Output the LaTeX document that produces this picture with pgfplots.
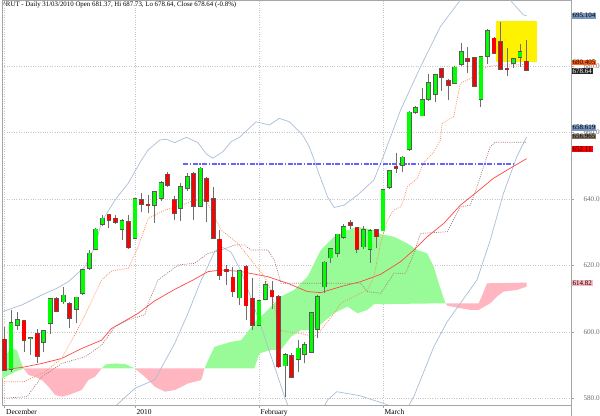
\documentclass[border=0pt]{standalone}
\usepackage{fontspec}
\setmainfont{Liberation Serif}
\usepackage{pgfplots}
\usepackage{pgfplotstable}
\pgfplotsset{compat=1.18}

\definecolor{upc}{RGB}{0,255,0}
\definecolor{dnc}{RGB}{255,0,0}
\definecolor{edge}{RGB}{90,90,90}
\definecolor{wick}{RGB}{110,110,110}
\definecolor{band}{RGB}{170,190,215}
\definecolor{ma}{RGB}{255,70,70}
\definecolor{tenkan}{RGB}{255,140,90}
\definecolor{kijun}{RGB}{170,120,120}
\definecolor{cloudup}{RGB}{152,251,152}
\definecolor{clouddn}{RGB}{255,182,193}
\definecolor{resist}{RGB}{100,100,255}
\definecolor{boxblue}{RGB}{120,150,190}
\definecolor{boxorange}{RGB}{255,100,30}
\definecolor{boxbrown}{RGB}{135,118,102}

% daily candles, n = trading day (0 = 3 Dec 2009)
\pgfplotstableread{
n  o      h      l      c
1  588.7  606.6  588.0  602.7
2  602.1  606.0  600.5  603.6
4  598.0  598.5  593.0  598.2
6  597.0  600.5  594.0  600.2
7  602.6  610.2  599.3  609.9
9  609.1  613.6  608.5  611.0
11 606.8  610.6  602.6  610.4
12 611.6  619.0  611.0  618.6
13 619.1  624.5  618.5  623.6
14 624.9  631.2  624.5  630.8
15 632.3  635.0  631.8  634.1
18 630.8  633.8  627.6  633.3
20 628.1  640.4  627.8  640.1
23 638.1  642.5  632.8  642.0
24 640.2  645.5  639.5  644.7
27 637.1  644.7  633.3  643.5
28 643.3  647.7  642.5  646.5
30 637.8  649.5  637.5  649.2
36 610.3  618.6  608.1  618.3
39 602.0  609.5  601.8  609.3
40 609.8  615.3  609.5  614.1
43 589.8  593.5  580.5  593.0
45 591.7  597.5  588.0  595.0
46 593.2  597.0  590.5  596.0
47 594.0  606.0  593.8  605.6
48 600.8  611.0  598.0  610.6
49 613.6  621.2  611.6  620.9
50 622.3  625.3  620.6  624.9
51 623.6  629.5  622.6  629.3
52 628.4  632.5  628.0  631.6
55 625.6  631.8  625.0  630.6
56 624.8  630.8  620.8  630.4
58 630.4  642.8  630.2  642.6
59 643.5  648.6  643.0  648.4
61 650.2  653.0  648.2  652.5
62 654.9  666.3  654.5  666.0
63 666.0  668.0  665.5  667.4
64 665.0  673.2  664.8  669.7
65 670.0  677.5  669.5  674.9
66 671.5  677.5  669.2  677.2
69 674.7  679.8  674.5  679.5
70 680.5  686.8  680.0  684.1
73 669.9  683.0  667.7  682.7
74 683.0  691.0  680.7  690.5
78 680.8  682.5  679.3  682.2
79 682.7  686.5  679.7  684.1
}\up
\pgfplotstableread{
n  o      h      l      c
0  597.7  601.5  588.5  588.5
3  603.2  603.5  594.0  597.5
5  599.5  600.8  590.5  592.7
8  609.9  610.5  606.0  606.3
10 608.4  609.1  601.1  604.1
16 635.1  635.5  631.1  633.6
17 634.1  635.0  632.5  633.1
19 633.1  635.1  625.0  625.3
21 639.6  641.7  636.0  638.4
22 638.3  641.1  635.6  638.0
25 647.4  648.2  643.5  644.1
26 639.8  641.0  633.6  635.6
29 647.5  648.0  633.6  637.8
31 645.9  646.5  633.1  639.4
32 640.1  643.6  627.8  628.1
33 627.8  630.6  615.6  617.1
34 618.8  620.1  614.1  618.1
35 616.4  619.6  610.6  612.1
37 619.6  620.1  603.6  607.9
38 610.1  616.1  600.5  602.0
41 612.3  615.3  606.8  610.6
42 610.6  611.0  589.0  589.5
44 592.7  593.5  586.0  586.3
53 632.8  633.5  631.0  632.1
54 631.3  631.6  623.7  624.9
57 630.6  631.0  625.1  628.6
60 649.7  653.7  647.7  649.2
67 679.0  679.3  672.5  676.5
68 675.4  676.0  669.7  674.2
71 682.0  685.7  677.7  681.4
72 682.3  682.5  673.5  673.9
75 688.3  688.8  683.5  683.8
76 687.1  693.3  678.8  679.0
77 679.1  685.3  676.9  679.0
80 681.37 687.73 678.64 678.64
}\down

\begin{document}
\begin{tikzpicture}
\path[use as bounding box] (0,0) rectangle (600bp,416bp);
\begin{axis}[
  at={(2bp,11bp)}, anchor=south west,
  scale only axis, width=569bp, height=405bp,
  xmin=-0.38, xmax=86.8, ymin=578, ymax=699.8,
  clip mode=individual,
  axis line style={draw=gray!70, line width=0.6bp},
  xtick={0,20,39,58}, xticklabels={December,2010,February,March},
  xtick pos=bottom, ytick pos=right, yticklabel pos=right,
  ytick={580,600,...,680},
  tick align=outside, major tick length=3bp,
  tick style={gray!70, line width=0.5bp},
  xmajorgrids, ymajorgrids,
  grid style={dotted, gray!45, line width=0.5bp},
  xticklabel style={anchor=north west, font=\fontsize{7.5}{8}\selectfont, inner sep=1bp, xshift=0.5bp},
  yticklabel style={anchor=west, font=\fontsize{7.2}{8}\selectfont, text=gray!85!black, xshift=6bp,
    /pgf/number format/fixed, /pgf/number format/fixed zerofill,
    /pgf/number format/precision=1, /pgf/number format/1000 sep={}},
  /pgf/number format/assume math mode=true,
]
% Ichimoku cloud
\addplot[fill=cloudup, draw=none] coordinates {(-0.38,586.0) (0.64,587.0) (1.65,588.0) (2.93,589.0) (2.4,591.5) (1.9,594.5) (1.15,595.0) (0.38,593.5) (-0.38,591.5)} -- cycle;
\addplot[fill=clouddn, draw=none] coordinates {(2.93,589.0) (3.69,587.0) (4.7,586.5) (5.73,585.5) (6.75,583.5) (7.76,581.0) (8.78,580.5) (9.8,581.0) (11.83,582.5) (12.85,585.5) (13.86,586.5) (14.89,589.0)} -- cycle;
\addplot[fill=cloudup, draw=none] coordinates {(14.89,589.0) (15.5,590.2) (17,590.5) (18.5,590.3) (19.97,589.0)} -- cycle;
\addplot[fill=clouddn, draw=none] coordinates {(19.97,589.0) (21.5,586.5) (23.02,583.5) (24.55,582.0) (26.08,582.5) (28.12,584.5) (30.15,585.5) (30.66,589.0)} -- cycle;
\addplot[fill=cloudup, draw=none] coordinates {(30.66,589.0) (31.2,591.5) (32.18,595.5) (34.73,597.0) (36.26,597.5) (38.29,602.6) (40.34,606.6) (42.37,610.6) (44.4,612.6) (46.44,616.6) (47.45,620.6) (48.47,624.6) (50.5,628.6) (52.55,630.6) (54.08,631.6) (56.61,630.6) (57.63,629.4) (59.66,628.6) (61.71,626.6) (63.24,624.6) (64.76,623.6) (65.77,619.6) (66.53,614.6) (67.56,608.6) (56.61,608.3) (55.6,606.6) (54.08,605.6) (52.55,607.6) (50.5,605.6) (47.97,601.5) (46.95,600.5) (45.42,600.5) (43.89,598.5) (42.37,594.6) (40.84,594.6) (39.05,593.5) (38.29,589.0)} -- cycle;
\addplot[fill=clouddn, draw=none] coordinates {(67.56,608.6) (72.64,608.6) (73.2,611.0) (73.92,614.6) (80,614.8) (80,613.6) (78.5,612.6) (76.46,612.1) (75.45,610.6) (74.43,608.6) (72.64,606.6) (71.37,606.6) (69.85,607.1) (67.82,607.9)} -- cycle;
% Bollinger bands
\addplot[band, line width=0.7bp] coordinates {(-0.38,606.0) (2.67,608.1) (5.73,611.1) (8.02,613.1) (9.8,615.1) (12.34,619.6) (13.86,625.6) (14.89,633.1) (16.92,639.6) (18.96,644.7) (20.99,651.7) (22.02,654.7) (23.79,657.7) (24.81,657.9) (26.08,656.9) (27.86,658.5) (29.65,656.9) (30.92,653.5) (31.94,652.2) (33.47,654.2) (34.73,657.2) (36.0,658.5) (38.55,663.2) (40.58,662.2) (42.11,664.2) (43.63,663.2) (45.68,659.2) (46.69,655.7) (47.45,651.7) (47.97,648.7) (49.5,640.6) (50.5,637.4) (52.03,638.1) (54.08,641.1) (56.61,645.7) (57.7,651.0) (60.69,666.7) (63.74,679.7) (66.79,691.8) (69.85,699.8) (71.5,704) (74,706) (76,704) (77.48,699.8) (79.5,695.3) (80,695.1)};
\addplot[band, line width=0.7bp] coordinates {(-0.38,572) (8,571) (14,573) (16.92,577.5) (19.97,583.0) (23.02,585.6) (26.08,596.5) (28.12,605.6) (30.15,615.6) (30.66,617.6) (32.18,624.1) (33.21,625.6) (34.7,624) (36.3,618) (37.8,610) (39.6,600) (41.3,590) (43.0,580) (44,575) (48,574) (49.5,579.5) (50.92,582.0) (54.43,580.8) (57.89,578.6) (60.23,576.9) (61.68,576.9) (62.72,580.5) (63.74,585.5) (65.77,595.5) (67.82,603.0) (69.85,608.6) (72.4,615.6) (74.43,627.6) (76.46,641.7) (78.5,652.7) (80,658.6)};
% moving average
\addplot[ma, line width=0.7bp] coordinates {(-0.38,588.6) (2.67,589.3) (5.73,590.5) (8.78,592.0) (11.83,595.0) (14.89,597.5) (16.4,601.0) (20.5,605.6) (23.0,609.3) (26.1,612.8) (28.9,615.6) (31.18,618.1) (33.21,618.6) (36.0,618.2) (40.34,616.6) (43.39,614.6) (46.44,612.1) (48.47,611.8) (51.53,613.6) (54.58,615.1) (57.63,617.3) (60.69,621.1) (62.72,624.6) (64.76,628.6) (67.3,632.6) (69.85,638.1) (72.4,642.1) (74.93,646.2) (77.48,649.2) (80,652.1)};
% tenkan and kijun
\addplot[tenkan, line width=0.7bp, dash pattern=on 1bp off 1.2bp] coordinates {(-0.38,585) (3,585) (6.2,588) (8.78,592) (11.83,603) (14.89,615.6) (16.41,618.3) (18.96,619.1) (20.49,625.6) (22.02,634.1) (24.55,636.6) (27.1,638.1) (29.13,639.6) (30.9,639.6) (32.18,634.6) (33.21,630.6) (35.76,626.6) (37.79,621.6) (39.82,616.6) (40.84,612.6) (42.11,600.5) (43.39,600.0) (45.42,599.5) (47.45,598.5) (48.47,600.5) (50.5,605.6) (51.53,608.6) (53.56,610.6) (55.6,612.6) (56.61,616.6) (57.63,626.6) (58.66,633.6) (59.66,636.6) (60.69,637.6) (61.2,640) (61.7,643.6) (63.24,646.2) (64.24,651) (65.77,654) (66.79,657.7) (67.05,662.7) (68.82,664.7) (69.85,674.7) (71.88,676.7) (72.9,678.2) (73.92,679.7) (75.45,680.2) (80,680.4)};
\addplot[kijun, line width=0.7bp, dash pattern=on 1bp off 1.2bp] coordinates {(-0.38,580) (3.44,580.5) (5.73,586.5) (8.78,590.5) (12.34,592.5) (14.89,596) (16.92,601.5) (18.96,603.6) (21.5,605.1) (22.02,608.6) (23.54,615.6) (26.6,620.1) (29.13,620.6) (31.18,623.6) (33.21,624.6) (35.24,626.1) (36.76,626.1) (37.79,624.6) (40.34,624.6) (41.34,621.6) (42.37,614.6) (54.58,614.6) (55.6,612.1) (57.63,611.6) (59.66,617.6) (61.45,617.6) (62.72,623.6) (63.74,629.6) (67.82,630.1) (69.85,637.6) (71.37,638.1) (72.4,643.6) (73.4,649.7) (74.43,655.7) (75.19,657.0) (80,657.0)};
% resistance line and highlight
\addplot[resist, line width=1.6bp, dash pattern=on 5bp off 1.5bp on 1.5bp off 1.5bp] coordinates {(27.36,650.4) (78.2,650.4)};
\addplot[fill=yellow, draw=none] coordinates {(75.34,681.3) (81.65,681.3) (81.65,693.4) (75.34,693.4)} -- cycle;
% wicks
\addplot[draw=none, mark=none, forget plot, error bars/.cd, y dir=plus, y explicit, error mark=none,
  error bar style={draw=wick, line width=0.9bp}]
  table[x=n, y=l, y error plus expr={\thisrow{h}-\thisrow{l}}] {\up};
\addplot[draw=none, mark=none, forget plot, error bars/.cd, y dir=plus, y explicit, error mark=none,
  error bar style={draw=wick, line width=0.9bp}]
  table[x=n, y=l, y error plus expr={\thisrow{h}-\thisrow{l}}] {\down};
% bodies: outline then fill
\addplot[draw=none, mark=none, forget plot, error bars/.cd, y dir=plus, y explicit, error mark=none,
  error bar style={draw=edge, line width=4.8bp}]
  table[x=n, y expr={min(\thisrow{o},\thisrow{c})-0.22}, y error plus expr={abs(\thisrow{c}-\thisrow{o})+0.44}] {\up};
\addplot[draw=none, mark=none, forget plot, error bars/.cd, y dir=plus, y explicit, error mark=none,
  error bar style={draw=upc, line width=3.4bp}]
  table[x=n, y expr={min(\thisrow{o},\thisrow{c})}, y error plus expr={abs(\thisrow{c}-\thisrow{o})}] {\up};
\addplot[draw=none, mark=none, forget plot, error bars/.cd, y dir=plus, y explicit, error mark=none,
  error bar style={draw=edge, line width=4.8bp}]
  table[x=n, y expr={min(\thisrow{o},\thisrow{c})-0.22}, y error plus expr={abs(\thisrow{c}-\thisrow{o})+0.44}] {\down};
\addplot[draw=none, mark=none, forget plot, error bars/.cd, y dir=plus, y explicit, error mark=none,
  error bar style={draw=dnc, line width=3.4bp}]
  table[x=n, y expr={min(\thisrow{o},\thisrow{c})}, y error plus expr={abs(\thisrow{c}-\thisrow{o})}] {\down};

\node[anchor=north west, inner sep=0pt, font=\fontsize{6.9}{8}\selectfont] at (rel axis cs:0.001,0.995)
  {\textasciicircum RUT - Daily 31/03/2010 Open 681.37, Hi 687.73, Lo 678.64, Close 678.64 (-0.8\%)};
\coordinate (b1) at (axis cs:86.8,695.07);
\coordinate (b2) at (axis cs:86.8,681.0);
\coordinate (b3) at (axis cs:86.8,678.4);
\coordinate (b4) at (axis cs:86.8,661.4);
\coordinate (b5) at (axis cs:86.8,658.75);
\coordinate (b6) at (axis cs:86.8,654.97);
\coordinate (b7) at (axis cs:86.8,614.59);
\end{axis}
\draw[gray!70, line width=0.6bp] (571bp,0) -- (571bp,11bp);
\begin{scope}[every node/.style={anchor=west, inner xsep=1bp, inner ysep=0.5bp, font=\fontsize{7}{7}\selectfont, xshift=0.5bp}]
\node[fill=boxblue] at (b1) {695.104};
\node[fill=boxorange] at (b2) {680.405};
\node[fill=black!85, text=white] at (b3) {678.64};
\node[fill=boxblue] at (b4) {658.619};
\node[fill=boxbrown] at (b5) {656.965};
\node[fill=red] at (b6) {652.11};
\node[fill=clouddn] at (b7) {614.82};
\end{scope}
\end{tikzpicture}
\end{document}
